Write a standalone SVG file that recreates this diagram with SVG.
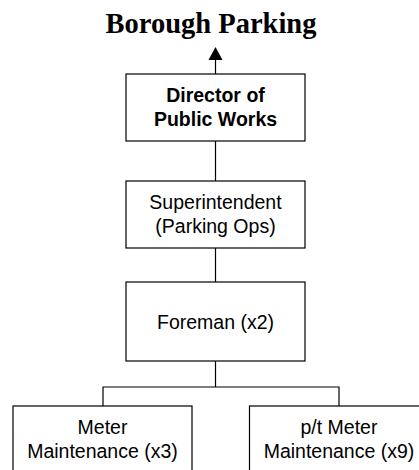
<svg xmlns="http://www.w3.org/2000/svg" width="419" height="470" viewBox="0 0 419 470">
  <style>
    .box { fill: #ffffff; stroke: #000000; stroke-width: 1.2; }
    .lbl { font-family: "Liberation Sans", Arial, sans-serif; font-size: 19.5px; fill: #000000; text-anchor: middle; }
    .bold { font-weight: bold; }
    .title { font-family: "Liberation Serif", "Times New Roman", serif; font-size: 28.5px; font-weight: bold; fill: #000000; text-anchor: middle; }
    .conn { fill: none; stroke: #000000; stroke-width: 1.2; }
  </style>
  <defs>
    <marker id="arrow" markerWidth="14" markerHeight="14" refX="7" refY="13" orient="auto" markerUnits="userSpaceOnUse" viewBox="0 0 14 14">
      <path d="M0,0 L14,7 L0,14 Z" fill="#000000" transform="rotate(0)"/>
    </marker>
  </defs>
  <rect width="419" height="470" fill="#ffffff"/>
  <text class="title" x="211" y="33">Borough Parking</text>
  <g id="connectors">
    <line class="conn" x1="215.5" y1="74" x2="215.5" y2="59"/>
    <polygon points="215.5,47 208.5,60 222.5,60" fill="#000000"/>
    <line class="conn" x1="215.5" y1="141" x2="215.5" y2="181"/>
    <line class="conn" x1="215.5" y1="248" x2="215.5" y2="282"/>
    <polyline class="conn" points="215.5,361 215.5,387"/>
    <polyline class="conn" points="103,406 103,387 339,387 339,406"/>
  </g>
  <g id="director">
    <rect class="box" x="126" y="74" width="179" height="67"/>
    <text class="lbl bold" x="215.5" y="101.5">Director of</text>
    <text class="lbl bold" x="215.5" y="125.5">Public Works</text>
  </g>
  <g id="superintendent">
    <rect class="box" x="126" y="181" width="179" height="67"/>
    <text class="lbl" x="215.5" y="209">Superintendent</text>
    <text class="lbl" x="215.5" y="233">(Parking Ops)</text>
  </g>
  <g id="foreman">
    <rect class="box" x="126" y="282" width="179" height="79"/>
    <text class="lbl" x="215.5" y="329">Foreman (x2)</text>
  </g>
  <g id="meter">
    <rect class="box" x="13" y="406" width="179" height="80"/>
    <text class="lbl" x="102.5" y="434">Meter</text>
    <text class="lbl" x="102.5" y="458">Maintenance (x3)</text>
  </g>
  <g id="pt-meter">
    <rect class="box" x="249.5" y="406" width="179" height="80"/>
    <text class="lbl" x="339" y="434">p/t Meter</text>
    <text class="lbl" x="339" y="458">Maintenance (x9)</text>
  </g>
</svg>
